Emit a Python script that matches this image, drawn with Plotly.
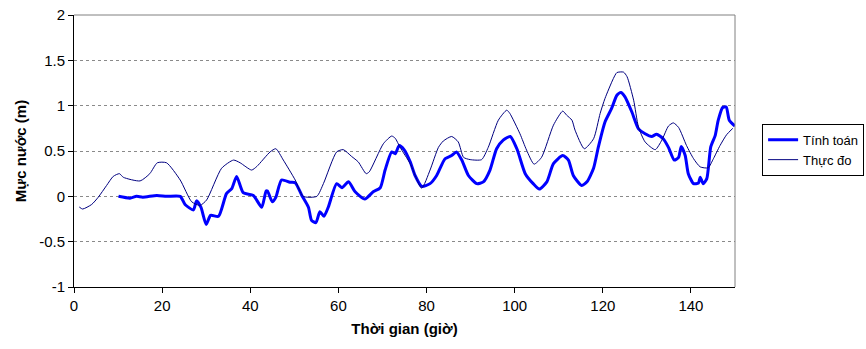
import plotly.graph_objects as go

# Tính toán (computed)
t_calc = [10.1, 12.7, 14.2, 15.6, 18.8, 21.0, 24.1, 25.2, 27.1, 27.8, 28.8, 30.0, 31.0, 32.8,
          34.6, 35.8, 36.9, 38.4, 40.7, 42.6, 43.6, 43.9, 45.0, 45.8, 47.1, 49.0, 50.2, 51.7,
          53.2, 53.9, 54.9, 55.8, 56.7, 57.7, 59.6, 60.8, 62.3, 63.8, 66.0, 67.9, 69.5, 70.6,
          72.1, 72.9, 73.8, 74.9, 76.3, 77.4, 78.9, 80.8, 82.3, 84.2, 85.7, 86.8, 88.0, 89.5,
          91.4, 92.9, 94.4, 95.9, 97.4, 99.0, 100.5, 102.4, 104.2, 105.6, 107.3, 108.8, 110.9,
          112.2, 113.3, 115.2, 116.4, 117.9, 119.0, 120.5, 122.0, 123.2, 124.1, 125.0, 126.6,
          128.1, 129.6, 131.1, 132.2, 133.7, 134.9, 136.2, 137.2, 137.8, 138.7, 139.4, 140.6,
          141.7, 142.1, 142.8, 143.6, 144.5, 145.5, 146.2, 147.2, 148.0, 148.7, 150.0]
v_calc = [0.0, -0.02, 0.0, -0.01, 0.01, 0.0, 0.0, -0.09, -0.15, -0.05, -0.12, -0.31, -0.21, -0.22,
          0.03, 0.085, 0.22, 0.04, 0.01, -0.12, 0.06, 0.06, -0.06, -0.01, 0.18, 0.155, 0.15, 0.01,
          -0.12, -0.265, -0.29, -0.17, -0.22, -0.12, 0.14, 0.095, 0.16, 0.05, -0.03, 0.05, 0.095, 0.29,
          0.49, 0.47, 0.56, 0.515, 0.38, 0.23, 0.11, 0.14, 0.23, 0.415, 0.45, 0.49, 0.40, 0.23,
          0.14, 0.16, 0.29, 0.525, 0.62, 0.66, 0.525, 0.25, 0.14, 0.08, 0.16, 0.36, 0.45,
          0.40, 0.23, 0.12, 0.16, 0.31, 0.545, 0.82, 0.97, 1.115, 1.145, 1.10, 0.93,
          0.745, 0.69, 0.66, 0.685, 0.635, 0.54, 0.40, 0.43, 0.55, 0.45, 0.25, 0.14,
          0.147, 0.21, 0.14, 0.195, 0.545, 0.67, 0.84, 0.98, 0.985, 0.84, 0.775]

# Thực đo (measured)
t_obs = [1.2, 1.95, 4.0, 5.5, 7.4, 8.9, 10.3, 11.2, 15.0, 17.2, 18.9, 21.0, 24.1, 26.7, 28.6,
         30.1, 33.5, 36.2, 37.7, 40.3, 41.5, 44.5, 45.8, 47.5, 50.2, 52.0, 55.1, 56.6, 59.6,
         61.1, 63.0, 64.5, 66.3, 67.0, 70.2, 72.1, 72.9, 74.0, 76.3, 78.9, 80.8, 82.7, 83.8,
         85.7, 87.2, 88.4, 89.9, 92.5, 94.0, 96.3, 98.2, 98.9, 101.2, 102.7, 104.4, 106.1,
         108.8, 110.9, 111.8, 113.0, 113.7, 115.8, 117.9, 119.4, 120.5, 122.4, 123.2, 124.7,
         125.5, 127.0, 128.1, 129.6, 131.9, 133.4, 134.9, 136.0, 137.2, 139.0, 140.6, 142.1,
         143.9, 145.1, 146.6, 148.1, 149.5]
v_obs = [-0.118, -0.14, -0.09, -0.01, 0.12, 0.22, 0.25, 0.21, 0.17, 0.25, 0.37, 0.37, 0.18, -0.06, -0.10,
         -0.04, 0.31, 0.40, 0.37, 0.29, 0.33, 0.49, 0.525, 0.40, 0.18, 0.0, 0.0, 0.14, 0.49,
         0.515, 0.44, 0.38, 0.25, 0.27, 0.58, 0.665, 0.64, 0.54, 0.36, 0.09, 0.29, 0.54, 0.61,
         0.66, 0.60, 0.43, 0.405, 0.405, 0.54, 0.84, 0.95, 0.915, 0.69, 0.51, 0.355, 0.43,
         0.785, 0.94, 0.895, 0.84, 0.73, 0.525, 0.635, 0.915, 1.08, 1.30, 1.365, 1.37,
         1.32, 1.06, 0.765, 0.60, 0.515, 0.62, 0.775, 0.81, 0.76, 0.56, 0.415, 0.325,
         0.315, 0.415, 0.56, 0.68, 0.75]

x_ticks = [0, 20, 40, 60, 80, 100, 120, 140]
y_ticks = [-1, -0.5, 0, 0.5, 1, 1.5, 2]
y_ticklabels = ["-1", "-0.5", "0", "0.5", "1", "1.5", "2"]

FONT = "Arial, Liberation Sans, sans-serif"

fig = go.Figure()
fig.add_trace(go.Scatter(x=t_calc, y=v_calc, mode="lines", name="Tính toán",
                         line=dict(color="#0000FF", width=3, shape="spline", smoothing=0.6)))
fig.add_trace(go.Scatter(x=t_obs, y=v_obs, mode="lines", name="Thực đo",
                         line=dict(color="#000080", width=1, shape="spline", smoothing=0.6)))

fig.update_layout(
    width=866, height=349,
    margin=dict(l=74, r=131, t=15, b=62, autoexpand=False),
    paper_bgcolor="white", plot_bgcolor="white",
    font=dict(family=FONT, size=14, color="black"),
    showlegend=True,
    legend=dict(x=1.041, y=0.60, xanchor="left", yanchor="top",
                bordercolor="black", borderwidth=1, bgcolor="white",
                font=dict(family=FONT, size=13, color="black"),
                itemwidth=30, tracegroupgap=0),
    xaxis=dict(range=[0, 150], tickvals=x_ticks, showgrid=False, zeroline=False,
               showline=True, linecolor="black", linewidth=1,
               ticks="outside", ticklen=5, tickcolor="black",
               tickfont=dict(family=FONT, size=15),
               title=dict(text="<b>Thời gian (giờ)</b>", font=dict(family=FONT, size=15), standoff=10)),
    yaxis=dict(range=[-1, 2], tickvals=y_ticks, ticktext=y_ticklabels,
               showgrid=True, gridcolor="#8a8a8a", gridwidth=1, griddash="dot",
               zeroline=False, showline=True, linecolor="black", linewidth=1,
               ticks="outside", ticklen=5, tickcolor="black",
               tickfont=dict(family=FONT, size=15),
               title=dict(text="<b>Mực nước (m)</b>", font=dict(family=FONT, size=15), standoff=8)),
)

# gray frame on top and right
fig.add_shape(type="line", xref="paper", yref="paper", x0=0, x1=1, y0=1, y1=1,
              line=dict(color="#808080", width=1))
fig.add_shape(type="line", xref="paper", yref="paper", x0=1, x1=1, y0=0, y1=1,
              line=dict(color="#808080", width=1))

fig.write_html("out.html")
